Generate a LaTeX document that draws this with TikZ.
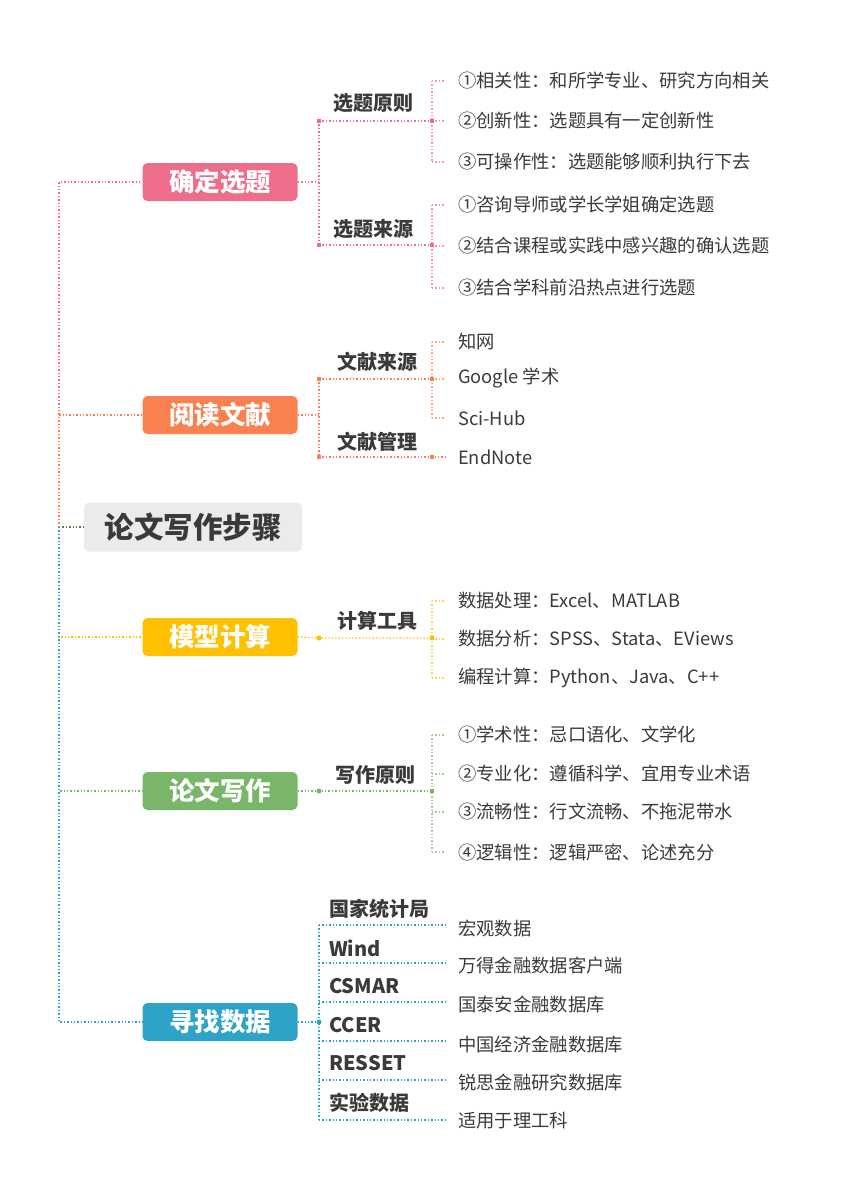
\documentclass[tikz,border=0pt]{standalone}
\usepackage{fontspec}
\setmainfont{Noto Sans CJK SC}
\definecolor{cpink}{HTML}{EE6D8A}
\definecolor{corange}{HTML}{F9804F}
\definecolor{cyellow}{HTML}{FFC000}
\definecolor{cgreen}{HTML}{79B66A}
\definecolor{cblue}{HTML}{2CA3C7}
\definecolor{ctxt}{HTML}{3A3A3A}
\definecolor{croot}{HTML}{EBEBEB}
\tikzset{x=1pt,y=-1pt,
 mainbox/.style={rounded corners=5pt,minimum width=155pt,minimum height=38pt,inner sep=0pt,text=white,font=\bfseries\fontsize{25.5}{25.5}\selectfont},
 sublab/.style={text=ctxt,font=\bfseries\fontsize{20}{20}\selectfont,inner sep=0pt},
 leaf/.style={anchor=west,text=ctxt,font=\fontsize{18.3}{18.3}\selectfont,inner sep=0pt},
 ln/.style={dotted,line width=1.4pt},
 dotm/.style={fill,minimum size=4pt,inner sep=0pt}}
\begin{document}
\begin{tikzpicture}
\useasboundingbox (0,0) rectangle (848,1200);
% root
\node[fill=croot,rounded corners=5pt,minimum width=218pt,minimum height=49pt,text=ctxt,font=\bfseries\fontsize{29.5}{29.5}\selectfont] (root) at (193,527) {论文写作步骤};
% branches
\node[mainbox,fill=cpink] (b1) at (220,182) {确定选题};
\node[mainbox,fill=corange] (b2) at (220,415) {阅读文献};
\node[mainbox,fill=cyellow] (b3) at (220,637) {模型计算};
\node[mainbox,fill=cgreen] (b4) at (220,791) {论文写作};
\node[mainbox,fill=cblue] (b5) at (220,1022) {寻找数据};
\coordinate (s0) at (59,527);
\draw[ln,cgreen!70!black] (s0) -- (root.west);
\draw[ln,cpink] (s0) |- (b1.west);
\draw[ln,corange] (s0) |- (b2.west);
\draw[ln,cyellow] (s0) |- (b3.west);
\draw[ln,cgreen] (s0) |- (b4.west);
\draw[ln,cblue] (s0) |- (b5.west);
% ---- branch 1
\coordinate (j1a) at (319,121); \coordinate (j1b) at (319,245);
\coordinate (k1a) at (432,121); \coordinate (k1b) at (432,245);
\node[sublab] (l1a) at (373,103) {选题原则};
\node[sublab] (l1b) at (373,229) {选题来源};
\draw[ln,cpink] (b1.east) -- (319,182);
\draw[ln,cpink] (j1a) -- (j1b);
\draw[ln,cpink] (j1a) -- (k1a); \draw[ln,cpink] (j1b) -- (k1b);
\node[leaf] (t11) at (458,81) {①相关性：和所学专业、研究方向相关};
\node[leaf] (t12) at (458,121) {②创新性：选题具有一定创新性};
\node[leaf] (t13) at (458,162) {③可操作性：选题能够顺利执行下去};
\node[leaf] (t14) at (458,205) {①咨询导师或学长学姐确定选题};
\node[leaf] (t15) at (458,246) {②结合课程或实践中感兴趣的确认选题};
\node[leaf] (t16) at (458,288) {③结合学科前沿热点进行选题};
\draw[ln,cpink!70] (432,81) -- (432,162);
\draw[ln,cpink!70] (432,205) -- (432,288);
\foreach \y in {81,121,162,205,246,288} \draw[ln,cpink!70] (432,\y) -- (445,\y);
\foreach \c in {j1a,j1b,k1a,k1b} \node[dotm,cpink] at (\c) {};
% ---- branch 2
\coordinate (j2a) at (319,379); \coordinate (j2b) at (319,457);
\coordinate (k2a) at (432,379); \coordinate (k2b) at (432,457);
\node[sublab] (l2a) at (377,362) {文献来源};
\node[sublab] (l2b) at (377,442) {文献管理};
\draw[ln,corange] (b2.east) -- (319,415);
\draw[ln,corange] (j2a) -- (j2b);
\draw[ln,corange] (j2a) -- (k2a); \draw[ln,corange] (j2b) -- (445,457);
\node[leaf] (t21) at (458,342) {知网};
\node[leaf] (t22) at (458,378) {Google 学术};
\node[leaf] (t23) at (458,418) {Sci-Hub};
\node[leaf] (t24) at (458,457) {EndNote};
\draw[ln,corange!70] (432,342) -- (432,418);
\foreach \y in {342,379,418} \draw[ln,corange!70] (432,\y) -- (445,\y);
\foreach \c in {j2a,j2b,k2a,k2b} \node[dotm,corange] at (\c) {};
% ---- branch 3
\coordinate (j3) at (319,638); \coordinate (k3) at (432,638);
\node[sublab] (l3) at (377,621) {计算工具};
\draw[ln,cyellow] (b3.east) -- (j3) -- (k3);
\node[leaf] (t31) at (458,601) {数据处理：Excel、MATLAB};
\node[leaf] (t32) at (458,639) {数据分析：SPSS、Stata、EViews};
\node[leaf] (t33) at (458,678) {编程计算：Python、Java、C++};
\draw[ln,cyellow!70] (432,601) -- (432,678);
\foreach \y in {601,639,678} \draw[ln,cyellow!70] (432,\y) -- (445,\y);
\node[dotm,cyellow,shape=circle,minimum size=5pt] at (j3) {};
\node[dotm,cyellow] at (k3) {};
% ---- branch 4
\coordinate (j4) at (319,791); \coordinate (k4) at (432,791);
\node[sublab] (l4) at (375,775) {写作原则};
\draw[ln,cgreen] (b4.east) -- (j4) -- (k4);
\node[leaf] (t41) at (458,735) {①学术性：忌口语化、文学化};
\node[leaf] (t42) at (458,774) {②专业化：遵循科学、宜用专业术语};
\node[leaf] (t43) at (458,812) {③流畅性：行文流畅、不拖泥带水};
\node[leaf] (t44) at (458,852) {④逻辑性：逻辑严密、论述充分};
\draw[ln,cgreen!70] (432,735) -- (432,852);
\foreach \y in {735,774,812,852} \draw[ln,cgreen!70] (432,\y) -- (445,\y);
\node[dotm,cgreen,shape=circle,minimum size=5pt] at (j4) {};
\node[dotm,cgreen] at (k4) {};
% ---- branch 5
\coordinate (j5) at (319,1022);
\draw[ln,cblue] (b5.east) -- (j5);
\draw[ln,cblue] (319,925) -- (319,1120);
\foreach \y in {925,963,1002,1041,1080,1120} \draw[ln,cblue] (319,\y) -- (445,\y);
\node[dotm,cblue,shape=circle,minimum size=5pt] at (j5) {};
\node[sublab,anchor=west] (l51) at (329,909) {国家统计局};
\node[sublab,anchor=west] (l52) at (329,948) {Wind};
\node[sublab,anchor=west] (l53) at (329,986) {CSMAR};
\node[sublab,anchor=west] (l54) at (329,1025) {CCER};
\node[sublab,anchor=west] (l55) at (329,1063) {RESSET};
\node[sublab,anchor=west] (l56) at (329,1103) {实验数据};
\node[leaf] (t51) at (458,928) {宏观数据};
\node[leaf] (t52) at (458,966) {万得金融数据客户端};
\node[leaf] (t53) at (458,1004) {国泰安金融数据库};
\node[leaf] (t54) at (458,1044) {中国经济金融数据库};
\node[leaf] (t55) at (458,1082) {锐思金融研究数据库};
\node[leaf] (t56) at (458,1121) {适用于理工科};
\end{tikzpicture}
\end{document}
